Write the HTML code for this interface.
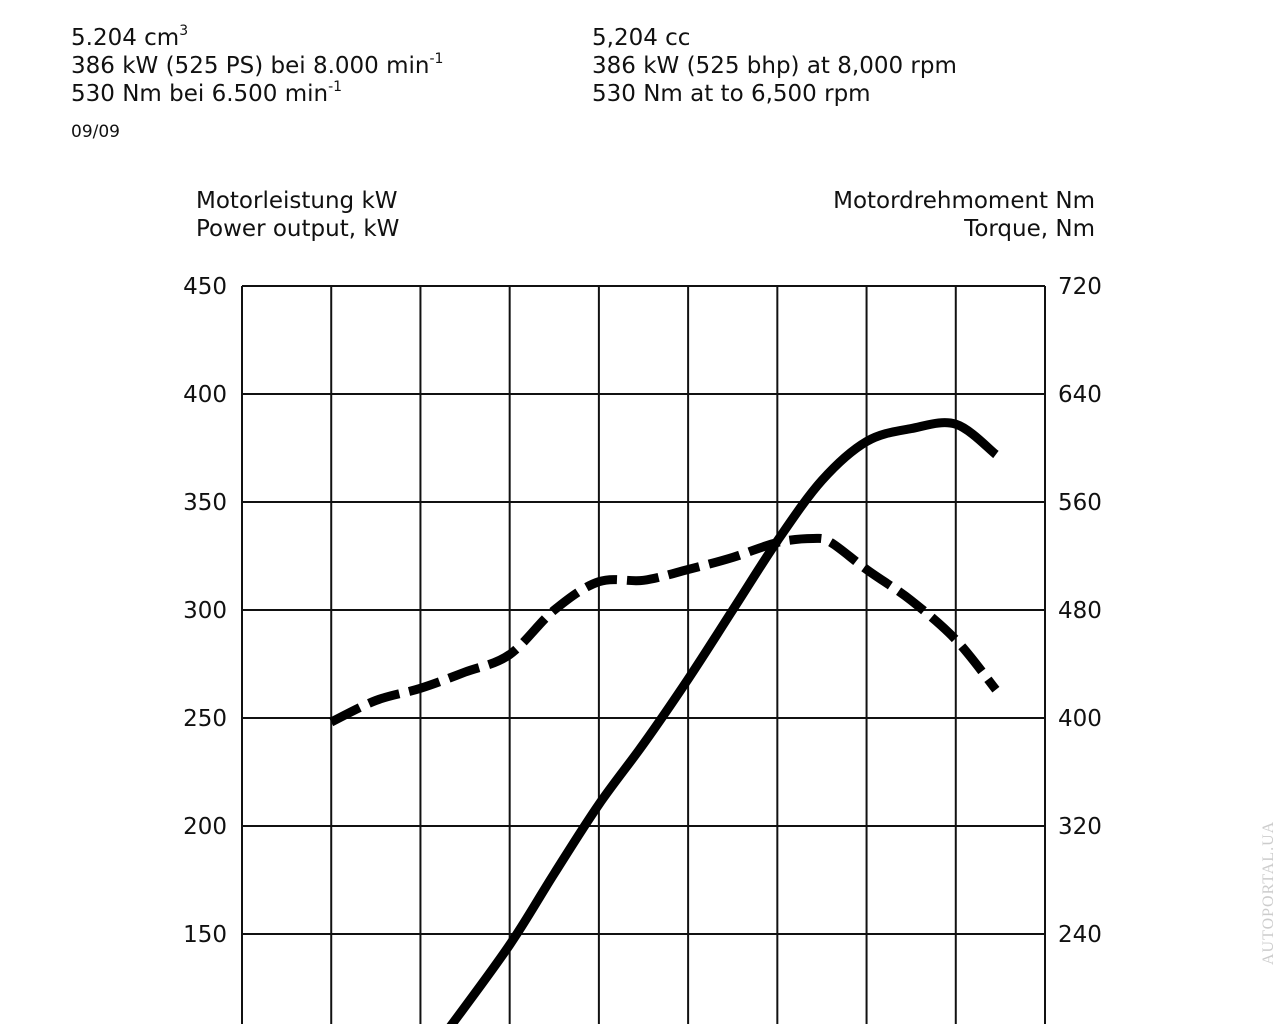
<!DOCTYPE html>
<html><head><meta charset="utf-8"><style>
body{margin:0;width:1280px;height:1024px;overflow:hidden;background:#fff;font-family:"DejaVu Sans","Liberation Sans",sans-serif;color:#111}
.t{position:absolute;font-size:23px;line-height:28px;white-space:nowrap}
sup{font-size:14px;vertical-align:10px;line-height:0}
</style></head><body>
<div class="t" style="left:71px;top:24px">5.204 cm<sup>3</sup><br>386 kW (525 PS) bei 8.000 min<sup>-1</sup><br>530 Nm bei 6.500 min<sup>-1</sup></div>
<div class="t" style="left:71px;top:118px;font-size:17px">09/09</div>
<div class="t" style="left:592px;top:24px">5,204 cc<br>386 kW (525 bhp) at 8,000 rpm<br>530 Nm at to 6,500 rpm</div>
<div class="t" style="left:196px;top:187px">Motorleistung kW<br>Power output, kW</div>
<div class="t" style="right:185px;top:187px;text-align:right">Motordrehmoment Nm<br>Torque, Nm</div>
<div class="t" style="left:1255px;top:965px;transform:rotate(-90deg);transform-origin:0 0;font-family:'Liberation Serif',serif;font-size:16px;color:#ccc;letter-spacing:1px">AUTOPORTAL.UA</div>
<svg id="c" width="1280" height="1024" style="position:absolute;left:0;top:0"></svg>
<script>
const rpmTicks=[0,1000,2000,3000,4000,5000,6000,7000,8000,9000];
const kwTicks=[150,200,250,300,350,400,450];
const nmTicks=[240,320,400,480,560,640,720];
const powerRpm=[2200,2350,3000,3500,4000,4500,5000,5500,6000,6500,7000,7500,8000,8450];
const powerKw=[100,108,145,178,210,238,268,300,332,360,378,384,386,372];
const torqueRpm=[1000,1500,2000,2500,3000,3500,4000,4500,5000,5500,6000,6400,6600,7000,7500,8000,8450];
const torqueNm=[397,413,422,434,447,480,501,502,510,519,530,533,530,510,487,458,421];
const NS='http://www.w3.org/2000/svg',svg=document.getElementById('c');
const x=r=>242+r*(1045-242)/9000;
const yk=v=>286+(450-v)*2.16;
const yn=v=>286+(720-v)*1.35;
function mk(t,a){const e=document.createElementNS(NS,t);for(const k in a)e.setAttribute(k,a[k]);svg.appendChild(e);return e;}
rpmTicks.forEach(r=>{const l=mk('line',{x1:x(r),x2:x(r),y1:286,y2:1024,stroke:'#111','stroke-width':2});

});
kwTicks.forEach((v,i)=>{const l=mk('line',{x1:242,x2:1045,y1:yk(v),y2:yk(v),stroke:'#111','stroke-width':2});


const t=mk('text',{x:227,y:yk(v)+8,'text-anchor':'end','font-size':23,fill:'#111','font-family':'DejaVu Sans, sans-serif'});t.textContent=v;


const n=nmTicks[i];const t2=mk('text',{x:1058,y:yn(n)+8,'font-size':23,fill:'#111','font-family':'DejaVu Sans, sans-serif'});t2.textContent=n;

});
function path(xs,ys){const P=xs.map((r,i)=>[x(r),ys[i]]);let d='M'+P[0][0]+','+P[0][1];
for(let i=0;i<P.length-1;i++){const p0=P[i-1]||P[i],p1=P[i],p2=P[i+1],p3=P[i+2]||P[i+1];
const c1=[p1[0]+(p2[0]-p0[0])/6,p1[1]+(p2[1]-p0[1])/6],c2=[p2[0]-(p3[0]-p1[0])/6,p2[1]-(p3[1]-p1[1])/6];
d+='C'+c1.map(v=>v.toFixed(1))+' '+c2.map(v=>v.toFixed(1))+' '+p2.map(v=>v.toFixed(1));}
return d;}
const p=mk('path',{d:path(powerRpm,powerKw.map(yk)),fill:'none',stroke:'#000','stroke-width':9,'stroke-linejoin':'round'});


const q=mk('path',{d:path(torqueRpm,torqueNm.map(yn)),fill:'none',stroke:'#000','stroke-width':9,'stroke-dasharray':'32 10','stroke-linejoin':'round'});


</script>
</body></html>
